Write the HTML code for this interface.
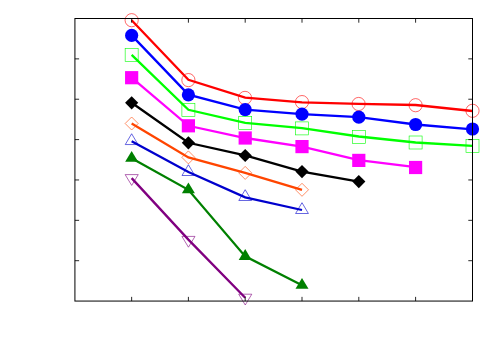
<!DOCTYPE html>
<html><head><meta charset="utf-8"><title>plot</title>
<style>html,body{margin:0;padding:0;background:#fff;font-family:"Liberation Sans",sans-serif}svg{display:block}</style></head><body>
<svg width="500" height="350" viewBox="0 0 500 350">
<rect width="500" height="350" fill="#fff"/>
<polyline points="131.65,20.2 188.4,79.8 245.2,97.6 302.0,102.4 358.8,103.95 415.6,105.0 472.5,111.0" fill="none" stroke="#ff0000" stroke-width="2.3" stroke-linejoin="miter"/>
<circle cx="131.65" cy="20.20" r="6.6" fill="none" stroke="#ff0000" stroke-width="0.6"/>
<circle cx="188.40" cy="80.10" r="6.6" fill="none" stroke="#ff0000" stroke-width="0.6"/>
<circle cx="245.00" cy="97.90" r="6.6" fill="none" stroke="#ff0000" stroke-width="0.6"/>
<circle cx="302.00" cy="102.10" r="6.6" fill="none" stroke="#ff0000" stroke-width="0.6"/>
<circle cx="358.60" cy="104.00" r="6.6" fill="none" stroke="#ff0000" stroke-width="0.6"/>
<circle cx="415.60" cy="105.20" r="6.6" fill="none" stroke="#ff0000" stroke-width="0.6"/>
<circle cx="472.50" cy="110.80" r="6.6" fill="none" stroke="#ff0000" stroke-width="0.6"/>
<polyline points="131.65,35.4 188.4,94.6 245.2,109.6 302.0,114.1 358.8,117.2 415.6,124.5 472.5,129.3" fill="none" stroke="#0000ff" stroke-width="2.3" stroke-linejoin="miter"/>
<circle cx="131.65" cy="35.40" r="6.6" fill="#0000ff"/>
<circle cx="188.40" cy="94.85" r="6.6" fill="#0000ff"/>
<circle cx="245.20" cy="109.60" r="6.6" fill="#0000ff"/>
<circle cx="302.00" cy="114.10" r="6.6" fill="#0000ff"/>
<circle cx="358.80" cy="117.20" r="6.6" fill="#0000ff"/>
<circle cx="415.60" cy="124.50" r="6.6" fill="#0000ff"/>
<circle cx="472.50" cy="129.00" r="6.6" fill="#0000ff"/>
<polyline points="131.65,54.8 188.4,109.8 245.2,122.9 302.0,128.2 358.8,136.5 415.6,142.5 472.5,145.8" fill="none" stroke="#00ff00" stroke-width="2.3" stroke-linejoin="miter"/>
<rect x="125.15" y="48.30" width="13.0" height="13.0" fill="none" stroke="#00ff00" stroke-width="0.6"/>
<rect x="181.90" y="103.30" width="13.0" height="13.0" fill="none" stroke="#00ff00" stroke-width="0.6"/>
<rect x="238.70" y="116.40" width="13.0" height="13.0" fill="none" stroke="#00ff00" stroke-width="0.6"/>
<rect x="295.50" y="121.90" width="13.0" height="13.0" fill="none" stroke="#00ff00" stroke-width="0.6"/>
<rect x="352.30" y="130.40" width="13.0" height="13.0" fill="none" stroke="#00ff00" stroke-width="0.6"/>
<rect x="409.10" y="136.00" width="13.0" height="13.0" fill="none" stroke="#00ff00" stroke-width="0.6"/>
<rect x="466.00" y="139.30" width="13.0" height="13.0" fill="none" stroke="#00ff00" stroke-width="0.6"/>
<polyline points="131.65,77.7 188.4,125.8 245.2,138.0 302.0,146.6 358.8,160.1 415.6,167.2" fill="none" stroke="#ff00ff" stroke-width="2.3" stroke-linejoin="miter"/>
<rect x="125.05" y="71.10" width="13.2" height="13.2" fill="#ff00ff"/>
<rect x="181.80" y="119.20" width="13.2" height="13.2" fill="#ff00ff"/>
<rect x="238.60" y="131.40" width="13.2" height="13.2" fill="#ff00ff"/>
<rect x="295.40" y="140.00" width="13.2" height="13.2" fill="#ff00ff"/>
<rect x="352.20" y="153.80" width="13.2" height="13.2" fill="#ff00ff"/>
<rect x="409.00" y="160.90" width="13.2" height="13.2" fill="#ff00ff"/>
<polyline points="131.65,102.8 188.4,142.8 245.2,155.3 302.0,171.6 358.8,181.6" fill="none" stroke="#000000" stroke-width="2.3" stroke-linejoin="miter"/>
<path d="M125.05 102.80L131.65 96.20L138.25 102.80L131.65 109.40Z" fill="#000000"/>
<path d="M181.80 142.80L188.40 136.20L195.00 142.80L188.40 149.40Z" fill="#000000"/>
<path d="M238.60 155.50L245.20 148.90L251.80 155.50L245.20 162.10Z" fill="#000000"/>
<path d="M295.40 171.60L302.00 165.00L308.60 171.60L302.00 178.20Z" fill="#000000"/>
<path d="M352.20 181.60L358.80 175.00L365.40 181.60L358.80 188.20Z" fill="#000000"/>
<polyline points="131.65,123.5 188.4,157.4 245.2,172.9 302.0,189.8" fill="none" stroke="#ff4500" stroke-width="2.3" stroke-linejoin="miter"/>
<path d="M125.15 123.50L131.65 117.00L138.15 123.50L131.65 130.00Z" fill="none" stroke="#ff4500" stroke-width="0.6"/>
<path d="M181.90 157.40L188.40 150.90L194.90 157.40L188.40 163.90Z" fill="none" stroke="#ff4500" stroke-width="0.6"/>
<path d="M238.70 172.90L245.20 166.40L251.70 172.90L245.20 179.40Z" fill="none" stroke="#ff4500" stroke-width="0.6"/>
<path d="M295.50 189.80L302.00 183.30L308.50 189.80L302.00 196.30Z" fill="none" stroke="#ff4500" stroke-width="0.6"/>
<polyline points="131.65,141.3 188.4,172.0 245.2,197.3 302.0,210.0" fill="none" stroke="#0000cd" stroke-width="2.3" stroke-linejoin="miter"/>
<path d="M125.25 144.55L131.65 133.75L138.05 144.55Z" fill="none" stroke="#0000cd" stroke-width="0.6"/>
<path d="M182.00 175.50L188.40 164.70L194.80 175.50Z" fill="none" stroke="#0000cd" stroke-width="0.6"/>
<path d="M238.80 200.50L245.20 189.70L251.60 200.50Z" fill="none" stroke="#0000cd" stroke-width="0.6"/>
<path d="M295.60 213.50L302.00 202.70L308.40 213.50Z" fill="none" stroke="#0000cd" stroke-width="0.6"/>
<polyline points="131.65,158.2 188.4,189.8 245.2,256.4 302.0,285.2" fill="none" stroke="#008000" stroke-width="2.3" stroke-linejoin="miter"/>
<path d="M125.15 161.70L131.65 150.90L138.15 161.70Z" fill="#008000"/>
<path d="M181.90 193.30L188.40 182.50L194.90 193.30Z" fill="#008000"/>
<path d="M238.70 259.90L245.20 249.10L251.70 259.90Z" fill="#008000"/>
<path d="M295.50 288.70L302.00 277.90L308.50 288.70Z" fill="#008000"/>
<polyline points="131.65,178.1 188.4,239.6 245.2,297.7" fill="none" stroke="#800080" stroke-width="2.3" stroke-linejoin="miter"/>
<path d="M125.15 174.60L131.70 185.40L138.25 174.60Z" fill="none" stroke="#800080" stroke-width="0.6"/>
<path d="M181.90 236.40L188.45 247.20L195.00 236.40Z" fill="none" stroke="#800080" stroke-width="0.6"/>
<path d="M238.70 294.20L245.25 305.00L251.80 294.20Z" fill="none" stroke="#800080" stroke-width="0.6"/>
<g stroke="#000" stroke-width="1" fill="none">
<rect x="74.92" y="18.5" width="397.58" height="282.56"/>
<path stroke-width="0.85" d="M131.65 18.5v4.2M131.65 301.06v-4.2"/>
<path stroke-width="0.85" d="M188.4 18.5v4.2M188.4 301.06v-4.2"/>
<path stroke-width="0.85" d="M245.2 18.5v4.2M245.2 301.06v-4.2"/>
<path stroke-width="0.85" d="M302.0 18.5v4.2M302.0 301.06v-4.2"/>
<path stroke-width="0.85" d="M358.8 18.5v4.2M358.8 301.06v-4.2"/>
<path stroke-width="0.85" d="M415.6 18.5v4.2M415.6 301.06v-4.2"/>
<path stroke-width="0.85" d="M74.92 58.87h4.2M472.5 58.87h-4.2"/>
<path stroke-width="0.85" d="M74.92 99.23h4.2M472.5 99.23h-4.2"/>
<path stroke-width="0.85" d="M74.92 139.6h4.2M472.5 139.6h-4.2"/>
<path stroke-width="0.85" d="M74.92 179.96h4.2M472.5 179.96h-4.2"/>
<path stroke-width="0.85" d="M74.92 220.33h4.2M472.5 220.33h-4.2"/>
<path stroke-width="0.85" d="M74.92 260.69h4.2M472.5 260.69h-4.2"/>
</g></svg></body></html>
